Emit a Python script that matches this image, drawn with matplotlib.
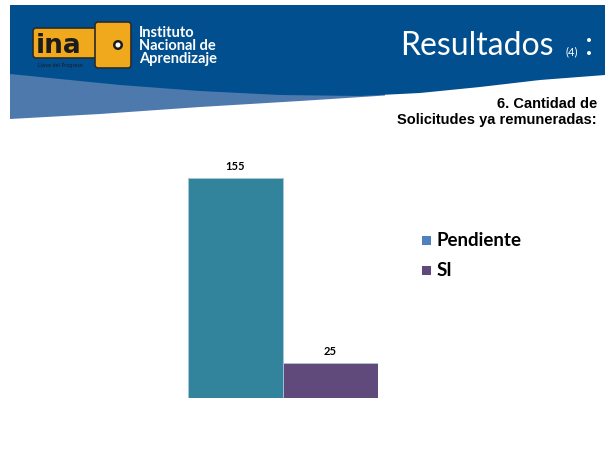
import matplotlib
matplotlib.use("Agg")
import matplotlib.pyplot as plt
from matplotlib.patches import Polygon, FancyBboxPatch, Circle, Rectangle
import numpy as np

categories = ["Pendiente", "SI"]
values = [155, 25]
bar_colors = ["#31849B", "#604A7B"]
legend_colors = ["#4F81BD", "#604A7B"]
title_main = "Resultados"
title_sub = "(4)"
subtitle = "6. Cantidad de\nSolicitudes ya remuneradas:"

W, H = 605, 460
fig = plt.figure(figsize=(W / 100, H / 100), dpi=100)
fig.patch.set_facecolor("white")

# Background / header layer in pixel coordinates
bg = fig.add_axes([0, 0, 1, 1])
bg.set_xlim(0, W)
bg.set_ylim(H, 0)
bg.axis("off")

# light-blue lower wave band (decorative)
xl = np.linspace(10, 385, 80)
light_bottom = np.interp(xl, [10, 100, 200, 300, 385], [120, 115, 108, 102, 96.5])
poly_light = np.vstack([[[10, 60], [385, 60]],
                        np.column_stack([xl[::-1], light_bottom[::-1]])])
bg.add_patch(Polygon(poly_light, closed=True, facecolor="#4E79AD", edgecolor="none", zorder=1))

# dark-blue header with curved bottom (decorative)
xd = np.linspace(10, 605, 150)
dark_bottom = np.interp(xd, [10, 60, 120, 200, 280, 360, 420, 480, 540, 605],
                        [75, 80, 86, 92, 96, 97, 94, 88, 81, 76])
poly_dark = np.vstack([[[10, 6], [605, 6]],
                       np.column_stack([xd[::-1], dark_bottom[::-1]])])
bg.add_patch(Polygon(poly_dark, closed=True, facecolor="#024F8F", edgecolor="none", zorder=2))

# logo: yellow key shape
bg.add_patch(FancyBboxPatch((34, 30), 64, 28, boxstyle="round,pad=1,rounding_size=3",
                            facecolor="#F0A81C", edgecolor="#2B2B2B", lw=1.2, zorder=3))
bg.add_patch(FancyBboxPatch((96, 24), 34, 44, boxstyle="round,pad=1,rounding_size=3",
                            facecolor="#F0A81C", edgecolor="#2B2B2B", lw=1.2, zorder=3))
bg.add_patch(Circle((118, 46), 5, facecolor="#1C1C1C", edgecolor="none", zorder=4))
bg.add_patch(Circle((118, 46), 2.5, facecolor="white", edgecolor="none", zorder=5))
bg.text(36, 46, "ina", color="#1C1C1C", fontsize=19, fontweight="bold",
        family="DejaVu Sans", va="center", ha="left", zorder=5)
bg.text(38, 65, "Llave del Progreso", color="#1C1C1C", fontsize=3.5,
        va="center", ha="left", zorder=5)
bg.text(139, 46, "Instituto\nNacional de\nAprendizaje", color="white", fontsize=10.5,
        fontweight="bold", family="Lato", va="center", ha="left", linespacing=0.95, zorder=5)

# title
bg.text(554, 55, title_main, color="white", fontsize=23, family="Lato",
        va="baseline", ha="right", zorder=5)
bg.text(565, 55, title_sub, color="white", fontsize=8, family="Lato",
        va="baseline", ha="left", zorder=5)
bg.text(585, 55, ":", color="white", fontsize=23, family="Lato",
        va="baseline", ha="left", zorder=5)

# subtitle
bg.text(597, 112, subtitle, color="black", fontsize=10.5, fontweight="bold",
        family=["Liberation Sans Narrow", "Liberation Sans"], va="center", ha="right",
        multialignment="right", linespacing=1.1, zorder=5)

# Chart axes
left_px, right_px = 188, 378
top_px, base_px = 179, 399
ax = fig.add_axes([left_px / W, (H - base_px) / H, (right_px - left_px) / W,
                   (base_px - top_px) / H])
x = np.arange(len(categories))
ax.bar(x, values, width=1.0, color=bar_colors, edgecolor="#A9C7D6", linewidth=0.6)
ax.set_xlim(-0.5, len(categories) - 0.5)
ax.set_ylim(0, max(values))
ax.axis("off")
for xi, v in zip(x, values):
    ax.annotate(str(v), (xi, v), xytext=(0, 5), textcoords="offset points",
                ha="center", va="bottom", fontsize=8, fontweight="bold",
                family="Lato", annotation_clip=False)

# legend
for i, (cat, col) in enumerate(zip(categories, legend_colors)):
    y = 241 + i * 30
    bg.add_patch(Rectangle((422, y - 4.5), 9, 9, facecolor=col, edgecolor="none", zorder=5))
    bg.text(437, y, cat, fontsize=13.5, fontweight="bold", family="Lato",
            va="center", ha="left", color="black", zorder=5)

fig.savefig("out.png", dpi=100, facecolor="white")
